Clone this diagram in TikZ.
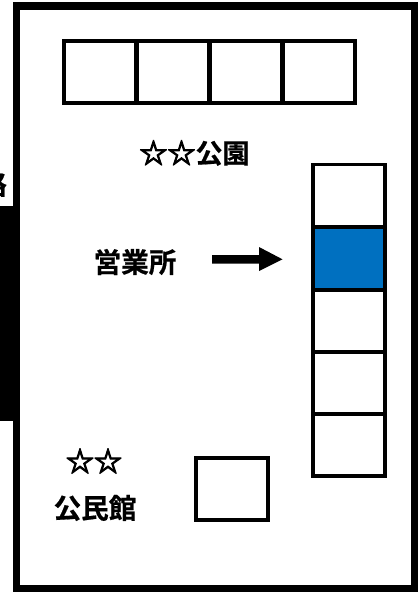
\documentclass[tikz,border=0pt]{standalone}
\usepackage{fontspec}
\newfontfamily\cjk{Noto Sans CJK JP Bold}[FakeBold=0.6]
\newfontfamily\cjkstar{Noto Sans CJK JP Bold}[FakeBold=3.5]
\definecolor{officeblue}{HTML}{0070C0}
\tikzset{
  x=1pt,y=-1pt,
  lot/.style={draw=black,line width=3.6pt,fill=white,minimum width=72pt,minimum height=62pt,inner sep=0pt,outer sep=0pt},
  label/.style={font=\cjk\fontsize{27.6}{28}\selectfont,inner sep=0pt,text=black},
  starlabel/.style={font=\cjkstar\fontsize{28}{28}\selectfont,inner sep=0pt,text=black}
}
\begin{document}
\begin{tikzpicture}
\useasboundingbox (0,0) rectangle (420,592);
\fill[white] (0,0) rectangle (420,592);
\node[label,anchor=center] (road) at (-7,184) {路};
\fill[black] (0,206) rectangle (14,421);
\draw[line width=7.6pt] (16.5,6) rectangle (414.5,588.5);
\node[lot] (t1) at (100,72) {};
\node[lot] (t2) at (173,72) {};
\node[lot] (t3) at (246,72) {};
\node[lot] (t4) at (319,72) {};
\node[lot] (r1) at (349,195.5) {};
\node[lot] (r3) at (349,321) {};
\node[lot] (r4) at (349,383) {};
\node[lot] (r5) at (349,445) {};
\node[lot,fill=officeblue] (r2) at (349,258.5) {};
\node[lot] (hall) at (232,489) {};
\node[starlabel,anchor=center] (park) at (194.5,153) {☆☆{\cjk\fontsize{27}{28}\selectfont 公園}};
\node[label] (office) at (135,262) {営業所};
\node[starlabel] (hallstars) at (94,461) {☆☆};
\node[label] (hallname) at (95,508) {公民館};
\fill[black] (212,255.2) -- (259,255.2) -- (259,247) -- (282.5,259.3) -- (259,271) -- (259,263.5) -- (212,263.5) -- cycle;
\end{tikzpicture}
\end{document}
